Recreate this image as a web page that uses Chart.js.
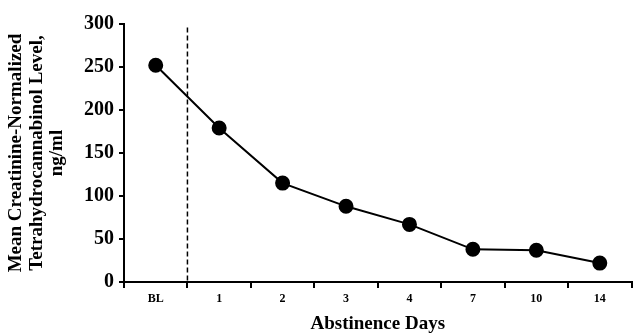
<!DOCTYPE html>
<html>
<head>
<meta charset="utf-8">
<script src="https://cdn.jsdelivr.net/npm/chart.js@4"></script>
<style>
  html, body { margin: 0; padding: 0; background: #fff; }
  #wrap { width: 640px; height: 335px; }
</style>
</head>
<body>
<div id="wrap"><canvas id="thcChart"></canvas></div>
<script>
// abstinence days and mean THC level
var days = ['BL', '1', '2', '3', '4', '7', '10', '14'];
var thcLevels = [252, 179, 115, 88, 67, 38, 37, 22];
var yTicks = [0, 50, 100, 150, 200, 250, 300];
var yTitle = ['Mean Creatinine-Normalized', 'Tetrahydrocannabinol Level,', 'ng/ml'];
var xTitle = 'Abstinence Days';

var serif = "'Liberation Serif', 'Times New Roman', serif";

// dashed line between baseline and day 1
var baselineDivider = {
    id: 'baselineDivider',
    afterDatasetsDraw: function(chart) {
        var x = chart.scales.x;
        var y = chart.scales.y;
        var px = (x.getPixelForValue(0) + x.getPixelForValue(1)) / 2;
        var ctx = chart.ctx;
        ctx.save();
        ctx.strokeStyle = '#000';
        ctx.lineWidth = 1.5;
        ctx.setLineDash([5, 3]);
        ctx.beginPath();
        ctx.moveTo(px, y.getPixelForValue(296));
        ctx.lineTo(px, y.bottom);
        ctx.stroke();
        ctx.restore();
    }
};

var ctx = document.getElementById('thcChart').getContext('2d');
var thcChart = new Chart(ctx, {
    type: 'line',
    data: {
        labels: days,
        datasets: [{
            label: 'THC',
            data: thcLevels,
            borderColor: '#000',
            backgroundColor: '#000',
            borderWidth: 2,
            pointRadius: 6.5,
            pointHoverRadius: 6.5,
            tension: 0
        }]
    },
    plugins: [baselineDivider],
    options: {
        responsive: true,
        maintainAspectRatio: false,
        animation: false,
        layout: { padding: { top: 24, right: 4, left: 6 } },
        plugins: {
            legend: { display: false },
            tooltip: { enabled: false }
        },
        scales: {
            x: {
                offset: true,
                grid: { display: true, drawOnChartArea: false, offset: true, color: '#000', tickLength: 6, lineWidth: 2 },
                border: { color: '#000', width: 2 },
                ticks: { color: '#000', font: { family: serif, size: 12, weight: 'bold' }, padding: 4, maxRotation: 0 },
                title: { display: true, text: xTitle, color: '#000', font: { family: serif, size: 19, weight: 'bold' }, padding: { top: 6, bottom: 0 } },
                afterFit: function(scale) { scale.height = 53; }
            },
            y: {
                min: 0,
                max: 300,
                afterBuildTicks: function(scale) {
                    scale.ticks = yTicks.map(function(v) { return { value: v }; });
                },
                grid: { display: true, drawOnChartArea: false, color: '#000', tickLength: 5, lineWidth: 2 },
                border: { color: '#000', width: 2 },
                ticks: { color: '#000', font: { family: serif, size: 20, weight: 'bold' }, padding: 5 },
                title: { display: true, text: yTitle, color: '#000', font: { family: serif, size: 19, weight: 'bold', lineHeight: 1.08 }, padding: { top: 0, bottom: 10 } },
                afterFit: function(scale) { scale.width = 118; }
            }
        }
    }
});
</script>
</body>
</html>
